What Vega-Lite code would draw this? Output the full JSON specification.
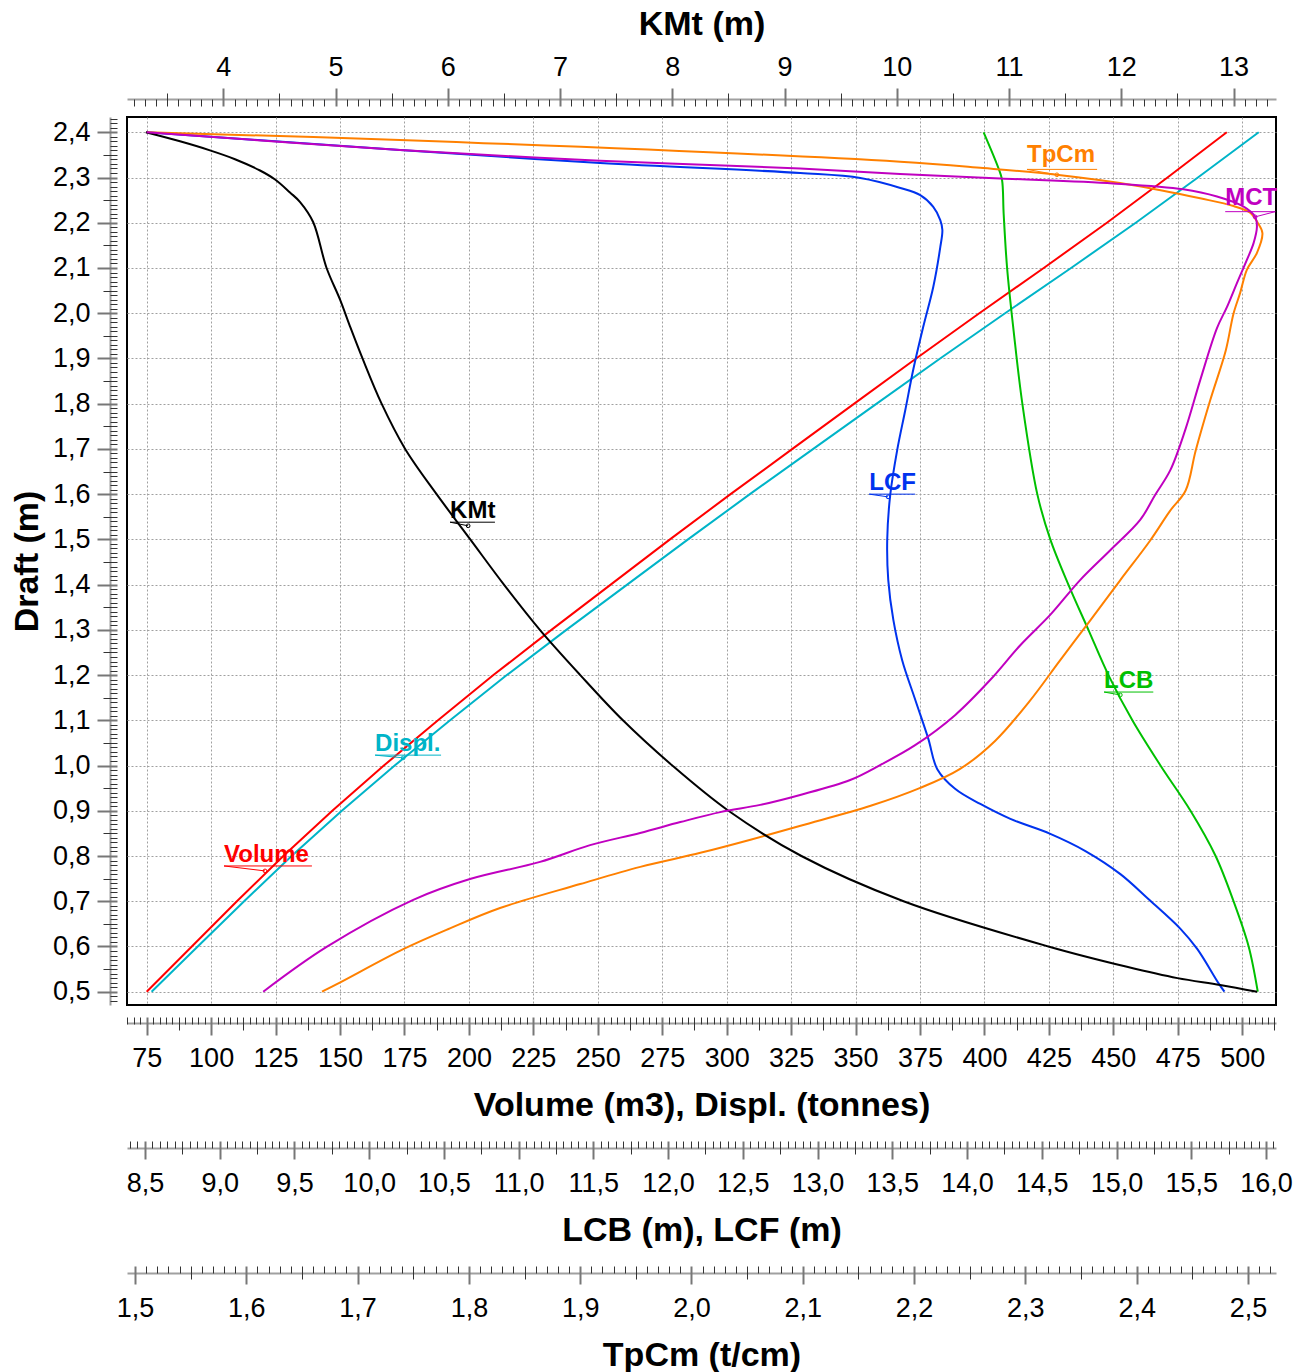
{
  "$schema": "https://vega.github.io/schema/vega-lite/v6.json",
  "width": 1149,
  "height": 888,
  "autosize": {"type": "none"},
  "padding": {"left": 127, "top": 117, "right": 17, "bottom": 367},
  "background": "white",
  "datasets": {
    "curves": [
      {"s": "Volume", "draft": 0.5, "val": 75},
      {"s": "Volume", "draft": 0.6, "val": 92.5},
      {"s": "Volume", "draft": 0.7, "val": 110},
      {"s": "Volume", "draft": 0.8, "val": 128},
      {"s": "Volume", "draft": 0.9, "val": 147},
      {"s": "Volume", "draft": 1.0, "val": 167},
      {"s": "Volume", "draft": 1.1, "val": 188},
      {"s": "Volume", "draft": 1.2, "val": 209.5},
      {"s": "Volume", "draft": 1.3, "val": 232},
      {"s": "Volume", "draft": 1.4, "val": 255},
      {"s": "Volume", "draft": 1.5, "val": 278},
      {"s": "Volume", "draft": 1.6, "val": 301.5},
      {"s": "Volume", "draft": 1.7, "val": 325.5},
      {"s": "Volume", "draft": 1.8, "val": 349.5},
      {"s": "Volume", "draft": 1.9, "val": 373.5},
      {"s": "Volume", "draft": 2.0, "val": 398},
      {"s": "Volume", "draft": 2.1, "val": 423},
      {"s": "Volume", "draft": 2.2, "val": 447.5},
      {"s": "Volume", "draft": 2.3, "val": 471},
      {"s": "Volume", "draft": 2.4, "val": 494},
      {"s": "Displ.", "draft": 0.5, "val": 76.9},
      {"s": "Displ.", "draft": 0.6, "val": 94.8},
      {"s": "Displ.", "draft": 0.7, "val": 112.8},
      {"s": "Displ.", "draft": 0.8, "val": 131.2},
      {"s": "Displ.", "draft": 0.9, "val": 150.7},
      {"s": "Displ.", "draft": 1.0, "val": 171.2},
      {"s": "Displ.", "draft": 1.1, "val": 192.7},
      {"s": "Displ.", "draft": 1.2, "val": 214.7},
      {"s": "Displ.", "draft": 1.3, "val": 237.8},
      {"s": "Displ.", "draft": 1.4, "val": 261.4},
      {"s": "Displ.", "draft": 1.5, "val": 285.0},
      {"s": "Displ.", "draft": 1.6, "val": 309.0},
      {"s": "Displ.", "draft": 1.7, "val": 333.6},
      {"s": "Displ.", "draft": 1.8, "val": 358.2},
      {"s": "Displ.", "draft": 1.9, "val": 382.8},
      {"s": "Displ.", "draft": 2.0, "val": 408.0},
      {"s": "Displ.", "draft": 2.1, "val": 433.6},
      {"s": "Displ.", "draft": 2.2, "val": 458.7},
      {"s": "Displ.", "draft": 2.3, "val": 482.8},
      {"s": "Displ.", "draft": 2.4, "val": 506.4},
      {"s": "KMt", "draft": 2.4, "val": 3.31},
      {"s": "KMt", "draft": 2.38, "val": 3.614},
      {"s": "KMt", "draft": 2.36, "val": 3.881},
      {"s": "KMt", "draft": 2.3405, "val": 4.104},
      {"s": "KMt", "draft": 2.3155, "val": 4.327},
      {"s": "KMt", "draft": 2.2956, "val": 4.461},
      {"s": "KMt", "draft": 2.2669, "val": 4.594},
      {"s": "KMt", "draft": 2.2458, "val": 4.684},
      {"s": "KMt", "draft": 2.2017, "val": 4.8},
      {"s": "KMt", "draft": 2.1, "val": 4.92},
      {"s": "KMt", "draft": 2.03, "val": 5.04},
      {"s": "KMt", "draft": 1.97, "val": 5.13},
      {"s": "KMt", "draft": 1.9, "val": 5.24},
      {"s": "KMt", "draft": 1.8, "val": 5.41},
      {"s": "KMt", "draft": 1.7, "val": 5.62},
      {"s": "KMt", "draft": 1.6, "val": 5.9},
      {"s": "KMt", "draft": 1.5, "val": 6.2},
      {"s": "KMt", "draft": 1.4, "val": 6.5},
      {"s": "KMt", "draft": 1.3, "val": 6.82},
      {"s": "KMt", "draft": 1.2, "val": 7.18},
      {"s": "KMt", "draft": 1.1, "val": 7.56},
      {"s": "KMt", "draft": 1.0, "val": 8.0},
      {"s": "KMt", "draft": 0.9, "val": 8.5},
      {"s": "KMt", "draft": 0.8, "val": 9.15},
      {"s": "KMt", "draft": 0.7, "val": 10.06},
      {"s": "KMt", "draft": 0.6, "val": 11.35},
      {"s": "KMt", "draft": 0.555, "val": 12.05},
      {"s": "KMt", "draft": 0.53, "val": 12.5},
      {"s": "KMt", "draft": 0.515, "val": 12.88},
      {"s": "KMt", "draft": 0.5, "val": 13.21},
      {"s": "LCB", "draft": 2.4, "val": 14.111},
      {"s": "LCB", "draft": 2.32, "val": 14.211},
      {"s": "LCB", "draft": 2.295, "val": 14.234},
      {"s": "LCB", "draft": 2.22, "val": 14.245},
      {"s": "LCB", "draft": 2.1, "val": 14.268},
      {"s": "LCB", "draft": 1.96, "val": 14.312},
      {"s": "LCB", "draft": 1.8, "val": 14.37},
      {"s": "LCB", "draft": 1.6, "val": 14.47},
      {"s": "LCB", "draft": 1.5, "val": 14.557},
      {"s": "LCB", "draft": 1.4, "val": 14.678},
      {"s": "LCB", "draft": 1.3, "val": 14.812},
      {"s": "LCB", "draft": 1.2, "val": 14.946},
      {"s": "LCB", "draft": 1.1, "val": 15.106},
      {"s": "LCB", "draft": 1.0, "val": 15.294},
      {"s": "LCB", "draft": 0.9, "val": 15.495},
      {"s": "LCB", "draft": 0.8, "val": 15.663},
      {"s": "LCB", "draft": 0.7, "val": 15.783},
      {"s": "LCB", "draft": 0.6, "val": 15.884},
      {"s": "LCB", "draft": 0.5, "val": 15.945},
      {"s": "LCF", "draft": 2.4, "val": 8.511},
      {"s": "LCF", "draft": 2.361, "val": 10.207},
      {"s": "LCF", "draft": 2.332, "val": 11.545},
      {"s": "LCF", "draft": 2.31, "val": 12.884},
      {"s": "LCF", "draft": 2.299, "val": 13.286},
      {"s": "LCF", "draft": 2.277, "val": 13.554},
      {"s": "LCF", "draft": 2.261, "val": 13.687},
      {"s": "LCF", "draft": 2.235, "val": 13.774},
      {"s": "LCF", "draft": 2.206, "val": 13.821},
      {"s": "LCF", "draft": 2.184, "val": 13.835},
      {"s": "LCF", "draft": 2.146, "val": 13.821},
      {"s": "LCF", "draft": 2.058, "val": 13.774},
      {"s": "LCF", "draft": 1.97, "val": 13.707},
      {"s": "LCF", "draft": 1.875, "val": 13.64},
      {"s": "LCF", "draft": 1.786, "val": 13.587},
      {"s": "LCF", "draft": 1.698, "val": 13.533},
      {"s": "LCF", "draft": 1.598, "val": 13.486},
      {"s": "LCF", "draft": 1.499, "val": 13.466},
      {"s": "LCF", "draft": 1.41, "val": 13.473},
      {"s": "LCF", "draft": 1.322, "val": 13.507},
      {"s": "LCF", "draft": 1.233, "val": 13.566},
      {"s": "LCF", "draft": 1.145, "val": 13.654},
      {"s": "LCF", "draft": 1.059, "val": 13.741},
      {"s": "LCF", "draft": 0.992, "val": 13.801},
      {"s": "LCF", "draft": 0.948, "val": 13.922},
      {"s": "LCF", "draft": 0.915, "val": 14.089},
      {"s": "LCF", "draft": 0.882, "val": 14.29},
      {"s": "LCF", "draft": 0.849, "val": 14.557},
      {"s": "LCF", "draft": 0.811, "val": 14.792},
      {"s": "LCF", "draft": 0.76, "val": 15.026},
      {"s": "LCF", "draft": 0.705, "val": 15.213},
      {"s": "LCF", "draft": 0.639, "val": 15.428},
      {"s": "LCF", "draft": 0.594, "val": 15.541},
      {"s": "LCF", "draft": 0.519, "val": 15.682},
      {"s": "LCF", "draft": 0.5, "val": 15.722},
      {"s": "TpCm", "draft": 2.4, "val": 1.5105},
      {"s": "TpCm", "draft": 2.383, "val": 1.738},
      {"s": "TpCm", "draft": 2.335, "val": 2.1875},
      {"s": "TpCm", "draft": 2.321, "val": 2.262},
      {"s": "TpCm", "draft": 2.306, "val": 2.328},
      {"s": "TpCm", "draft": 2.283, "val": 2.397},
      {"s": "TpCm", "draft": 2.254, "val": 2.457},
      {"s": "TpCm", "draft": 2.237, "val": 2.487},
      {"s": "TpCm", "draft": 2.222, "val": 2.502},
      {"s": "TpCm", "draft": 2.199, "val": 2.509},
      {"s": "TpCm", "draft": 2.177, "val": 2.513},
      {"s": "TpCm", "draft": 2.133, "val": 2.508},
      {"s": "TpCm", "draft": 2.096, "val": 2.499},
      {"s": "TpCm", "draft": 2.045, "val": 2.493},
      {"s": "TpCm", "draft": 1.999, "val": 2.487},
      {"s": "TpCm", "draft": 1.917, "val": 2.48},
      {"s": "TpCm", "draft": 1.807, "val": 2.466},
      {"s": "TpCm", "draft": 1.696, "val": 2.453},
      {"s": "TpCm", "draft": 1.608, "val": 2.444},
      {"s": "TpCm", "draft": 1.563, "val": 2.43},
      {"s": "TpCm", "draft": 1.497, "val": 2.412},
      {"s": "TpCm", "draft": 1.409, "val": 2.385},
      {"s": "TpCm", "draft": 1.32, "val": 2.358},
      {"s": "TpCm", "draft": 1.232, "val": 2.331},
      {"s": "TpCm", "draft": 1.143, "val": 2.304},
      {"s": "TpCm", "draft": 1.055, "val": 2.273},
      {"s": "TpCm", "draft": 0.992, "val": 2.241},
      {"s": "TpCm", "draft": 0.95, "val": 2.205},
      {"s": "TpCm", "draft": 0.911, "val": 2.161},
      {"s": "TpCm", "draft": 0.867, "val": 2.098},
      {"s": "TpCm", "draft": 0.836, "val": 2.053},
      {"s": "TpCm", "draft": 0.807, "val": 2.008},
      {"s": "TpCm", "draft": 0.776, "val": 1.954},
      {"s": "TpCm", "draft": 0.738, "val": 1.9},
      {"s": "TpCm", "draft": 0.685, "val": 1.828},
      {"s": "TpCm", "draft": 0.64, "val": 1.783},
      {"s": "TpCm", "draft": 0.594, "val": 1.741},
      {"s": "TpCm", "draft": 0.52, "val": 1.684},
      {"s": "TpCm", "draft": 0.5, "val": 1.668},
      {"s": "MCT", "draft": 2.4, "val": 75.0},
      {"s": "MCT", "draft": 2.361, "val": 173.3},
      {"s": "MCT", "draft": 2.337, "val": 250.9},
      {"s": "MCT", "draft": 2.32, "val": 328.5},
      {"s": "MCT", "draft": 2.308, "val": 367.3},
      {"s": "MCT", "draft": 2.298, "val": 406.1},
      {"s": "MCT", "draft": 2.287, "val": 449.9},
      {"s": "MCT", "draft": 2.274, "val": 477.1},
      {"s": "MCT", "draft": 2.258, "val": 490.2},
      {"s": "MCT", "draft": 2.236, "val": 500.4},
      {"s": "MCT", "draft": 2.213, "val": 505.0},
      {"s": "MCT", "draft": 2.191, "val": 505.7},
      {"s": "MCT", "draft": 2.155, "val": 504.4},
      {"s": "MCT", "draft": 2.118, "val": 501.8},
      {"s": "MCT", "draft": 2.066, "val": 497.9},
      {"s": "MCT", "draft": 2.014, "val": 494.1},
      {"s": "MCT", "draft": 1.967, "val": 490.2},
      {"s": "MCT", "draft": 1.852, "val": 483.7},
      {"s": "MCT", "draft": 1.742, "val": 477.9},
      {"s": "MCT", "draft": 1.653, "val": 472.1},
      {"s": "MCT", "draft": 1.598, "val": 466.2},
      {"s": "MCT", "draft": 1.543, "val": 460.4},
      {"s": "MCT", "draft": 1.476, "val": 448.8},
      {"s": "MCT", "draft": 1.41, "val": 437.1},
      {"s": "MCT", "draft": 1.333, "val": 425.5},
      {"s": "MCT", "draft": 1.266, "val": 413.9},
      {"s": "MCT", "draft": 1.189, "val": 402.2},
      {"s": "MCT", "draft": 1.112, "val": 388.7},
      {"s": "MCT", "draft": 1.045, "val": 373.1},
      {"s": "MCT", "draft": 1.001, "val": 359.5},
      {"s": "MCT", "draft": 0.968, "val": 347.9},
      {"s": "MCT", "draft": 0.935, "val": 328.5},
      {"s": "MCT", "draft": 0.913, "val": 313.0},
      {"s": "MCT", "draft": 0.897, "val": 297.5},
      {"s": "MCT", "draft": 0.875, "val": 282.0},
      {"s": "MCT", "draft": 0.851, "val": 266.4},
      {"s": "MCT", "draft": 0.824, "val": 247.0},
      {"s": "MCT", "draft": 0.787, "val": 227.6},
      {"s": "MCT", "draft": 0.749, "val": 200.4},
      {"s": "MCT", "draft": 0.703, "val": 178.4},
      {"s": "MCT", "draft": 0.599, "val": 144.8},
      {"s": "MCT", "draft": 0.5, "val": 120.2}
    ],
    "notes": [
      {"s": "TpCm", "x": 416.5, "y": 2.334, "x2": 443.7, "uy": 2.318, "lx": 416.5, "px": 428.1, "py": 2.306},
      {"s": "MCT", "x": 493.4, "y": 2.239, "x2": 512.8, "uy": 2.2245, "lx": 512.8, "px": 505.0, "py": 2.213},
      {"s": "LCF", "x": 355.3, "y": 1.609, "x2": 373.1, "uy": 1.6, "lx": 355.3, "px": 362.6, "py": 1.594},
      {"s": "KMt", "x": 192.7, "y": 1.547, "x2": 210.1, "uy": 1.538, "lx": 192.7, "px": 199.7, "py": 1.53},
      {"s": "LCB", "x": 446.4, "y": 1.171, "x2": 465.5, "uy": 1.1625, "lx": 446.4, "px": 452.7, "py": 1.156},
      {"s": "Displ.", "x": 163.6, "y": 1.032, "x2": 189.2, "uy": 1.023, "lx": 163.6, "px": 174.5, "py": 1.017},
      {"s": "Volume", "x": 105.0, "y": 0.787, "x2": 139.1, "uy": 0.778, "lx": 105.0, "px": 120.9, "py": 0.767}
    ]
  },
  "resolve": {
    "scale": {"x": "independent"},
    "axis": {"x": "independent", "y": "independent"}
  },
  "layer": [
    {
      "data": {"name": "curves"},
      "transform": [{"filter": {"field": "s", "oneOf": ["Volume", "Displ."]}}],
      "mark": {"type": "line", "strokeWidth": 2},
      "encoding": {
        "x": {
          "field": "val", "type": "quantitative",
          "scale": {"domain": [67.36, 513.1], "nice": false, "zero": false},
          "axis": {
            "orient": "bottom", "offset": 18, "values": [75, 100, 125, 150, 175, 200, 225, 250, 275, 300, 325, 350, 375, 400, 425, 450, 475, 500],
            "ticks": false, "tickSize": 0, "domain": true, "grid": true,
            "labelPadding": 43, "labelBaseline": "alphabetic", "format": "d",
            "title": "Volume (m3), Displ. (tonnes)", "titleBaseline": "alphabetic", "titleY": 92
          }
        },
        "y": {
          "field": "draft", "type": "quantitative",
          "scale": {"domain": [0.4706, 2.4338], "nice": false, "zero": false},
          "axis": {
            "orient": "left", "offset": 17, "values": [0.5, 0.6, 0.7, 0.8, 0.9, 1.0, 1.1, 1.2, 1.3, 1.4, 1.5, 1.6, 1.7, 1.8, 1.9, 2.0, 2.1, 2.2, 2.3, 2.4],
            "ticks": false, "tickSize": 0, "domain": true, "grid": true,
            "labelPadding": 20, "labelBaseline": "middle",
            "labelExpr": "replace(format(datum.value, '.1f'), '.', ',')",
            "title": "Draft (m)", "titleBaseline": "alphabetic", "titleAngle": 270, "titleX": -73
          }
        },
        "color": {
          "field": "s", "type": "nominal", "legend": null,
          "scale": {"domain": ["Volume", "Displ.", "KMt", "LCB", "LCF", "TpCm", "MCT"], "range": ["#ff0000", "#00b4c8", "#000000", "#00c000", "#0033ee", "#ff8000", "#c000c0"]}
        },
        "order": {"field": "draft", "type": "quantitative"}
      }
    },
    {
      "data": {"name": "curves"},
      "transform": [{"filter": {"field": "s", "equal": "Volume"}}],
      "mark": {"type": "point", "opacity": 0},
      "encoding": {
        "x": {
          "field": "val", "type": "quantitative",
          "scale": {"domain": [67.36, 513.1], "nice": false, "zero": false},
          "axis": {
            "orient": "bottom", "offset": 12, "domain": false, "grid": false, "labels": false, "title": null, "ticks": true,
            "values": [67.5,70,72.5,75,77.5,80,82.5,85,87.5,90,92.5,95,97.5,100,102.5,105,107.5,110,112.5,115,117.5,120,122.5,125,127.5,130,132.5,135,137.5,140,142.5,145,147.5,150,152.5,155,157.5,160,162.5,165,167.5,170,172.5,175,177.5,180,182.5,185,187.5,190,192.5,195,197.5,200,202.5,205,207.5,210,212.5,215,217.5,220,222.5,225,227.5,230,232.5,235,237.5,240,242.5,245,247.5,250,252.5,255,257.5,260,262.5,265,267.5,270,272.5,275,277.5,280,282.5,285,287.5,290,292.5,295,297.5,300,302.5,305,307.5,310,312.5,315,317.5,320,322.5,325,327.5,330,332.5,335,337.5,340,342.5,345,347.5,350,352.5,355,357.5,360,362.5,365,367.5,370,372.5,375,377.5,380,382.5,385,387.5,390,392.5,395,397.5,400,402.5,405,407.5,410,412.5,415,417.5,420,422.5,425,427.5,430,432.5,435,437.5,440,442.5,445,447.5,450,452.5,455,457.5,460,462.5,465,467.5,470,472.5,475,477.5,480,482.5,485,487.5,490,492.5,495,497.5,500,502.5,505,507.5,510,512.5],
            "tickSize": {"condition": [{"test": "datum.value % 25 === 0", "value": 18}, {"test": "datum.value % 12.5 === 0", "value": 13}], "value": 7},
            "tickWidth": {"condition": {"test": "datum.value % 25 === 0", "value": 2}, "value": 1},
            "tickColor": {"condition": {"test": "datum.value % 25 === 0", "value": "#777777"}, "value": "#333333"}
          }
        },
        "y": {
          "field": "draft", "type": "quantitative",
          "scale": {"domain": [0.4706, 2.4338], "nice": false, "zero": false},
          "axis": {
            "orient": "left", "offset": 10, "domain": false, "grid": false, "labels": false, "title": null, "ticks": true,
            "tickCount": 196,
            "tickSize": {"condition": [{"test": "round(datum.value * 100) % 10 === 0", "value": 20}, {"test": "round(datum.value * 100) % 5 === 0", "value": 14}], "value": 7},
            "tickWidth": {"condition": {"test": "round(datum.value * 100) % 10 === 0", "value": 2}, "value": 1},
            "tickColor": {"condition": {"test": "round(datum.value * 100) % 10 === 0", "value": "#777777"}, "value": "#333333"}
          }
        }
      }
    },
    {
      "data": {"name": "curves"},
      "transform": [{"filter": {"field": "s", "oneOf": ["LCB", "LCF"]}}],
      "mark": {"type": "line", "strokeWidth": 2, "interpolate": "catmull-rom"},
      "encoding": {
        "x": {
          "field": "val", "type": "quantitative",
          "scale": {"domain": [8.38, 16.067], "nice": false, "zero": false},
          "axis": {
            "orient": "bottom", "offset": 143, "values": [8.5, 9, 9.5, 10, 10.5, 11, 11.5, 12, 12.5, 13, 13.5, 14, 14.5, 15, 15.5, 16],
            "ticks": false, "tickSize": 0, "domain": true, "grid": false,
            "labelPadding": 43, "labelBaseline": "alphabetic",
            "labelExpr": "replace(format(datum.value, '.1f'), '.', ',')",
            "title": "LCB (m), LCF (m)", "titleBaseline": "alphabetic", "titleY": 92
          }
        },
        "y": {"field": "draft", "type": "quantitative", "scale": {"domain": [0.4706, 2.4338], "nice": false, "zero": false}, "axis": null},
        "color": {
          "field": "s", "type": "nominal", "legend": null,
          "scale": {"domain": ["Volume", "Displ.", "KMt", "LCB", "LCF", "TpCm", "MCT"], "range": ["#ff0000", "#00b4c8", "#000000", "#00c000", "#0033ee", "#ff8000", "#c000c0"]}
        },
        "order": {"field": "draft", "type": "quantitative"}
      }
    },
    {
      "data": {"name": "curves"},
      "transform": [{"filter": {"field": "s", "equal": "LCB"}}],
      "mark": {"type": "point", "opacity": 0},
      "encoding": {
        "x": {
          "field": "val", "type": "quantitative",
          "scale": {"domain": [8.38, 16.067], "nice": false, "zero": false},
          "axis": {
            "orient": "bottom", "offset": 136, "domain": false, "grid": false, "labels": false, "title": null, "ticks": true,
            "tickCount": 154,
            "tickSize": {"condition": [{"test": "round(datum.value * 100) % 50 === 0", "value": 18}, {"test": "round(datum.value * 100) % 25 === 0", "value": 13}], "value": 7},
            "tickWidth": {"condition": {"test": "round(datum.value * 100) % 50 === 0", "value": 2}, "value": 1},
            "tickColor": {"condition": {"test": "round(datum.value * 100) % 50 === 0", "value": "#777777"}, "value": "#333333"}
          }
        },
        "y": {"field": "draft", "type": "quantitative", "scale": {"domain": [0.4706, 2.4338], "nice": false, "zero": false}, "axis": null}
      }
    },
    {
      "data": {"name": "curves"},
      "transform": [{"filter": {"field": "s", "equal": "TpCm"}}],
      "mark": {"type": "line", "strokeWidth": 2, "interpolate": "catmull-rom"},
      "encoding": {
        "x": {
          "field": "val", "type": "quantitative",
          "scale": {"domain": [1.4928, 2.5252], "nice": false, "zero": false},
          "axis": {
            "orient": "bottom", "offset": 268, "values": [1.5, 1.6, 1.7, 1.8, 1.9, 2.0, 2.1, 2.2, 2.3, 2.4, 2.5],
            "ticks": false, "tickSize": 0, "domain": true, "grid": false,
            "labelPadding": 43, "labelBaseline": "alphabetic",
            "labelExpr": "replace(format(datum.value, '.1f'), '.', ',')",
            "title": "TpCm (t/cm)", "titleBaseline": "alphabetic", "titleY": 92
          }
        },
        "y": {"field": "draft", "type": "quantitative", "scale": {"domain": [0.4706, 2.4338], "nice": false, "zero": false}, "axis": null},
        "color": {
          "field": "s", "type": "nominal", "legend": null,
          "scale": {"domain": ["Volume", "Displ.", "KMt", "LCB", "LCF", "TpCm", "MCT"], "range": ["#ff0000", "#00b4c8", "#000000", "#00c000", "#0033ee", "#ff8000", "#c000c0"]}
        },
        "order": {"field": "draft", "type": "quantitative"}
      }
    },
    {
      "data": {"name": "curves"},
      "transform": [{"filter": {"field": "s", "equal": "TpCm"}}],
      "mark": {"type": "point", "opacity": 0},
      "encoding": {
        "x": {
          "field": "val", "type": "quantitative",
          "scale": {"domain": [1.4928, 2.5252], "nice": false, "zero": false},
          "axis": {
            "orient": "bottom", "offset": 261, "domain": false, "grid": false, "labels": false, "title": null, "ticks": true,
            "tickCount": 103,
            "tickSize": {"condition": [{"test": "round(datum.value * 100) % 10 === 0", "value": 18}, {"test": "round(datum.value * 100) % 5 === 0", "value": 13}], "value": 7},
            "tickWidth": {"condition": {"test": "round(datum.value * 100) % 10 === 0", "value": 2}, "value": 1},
            "tickColor": {"condition": {"test": "round(datum.value * 100) % 10 === 0", "value": "#777777"}, "value": "#333333"}
          }
        },
        "y": {"field": "draft", "type": "quantitative", "scale": {"domain": [0.4706, 2.4338], "nice": false, "zero": false}, "axis": null}
      }
    },
    {
      "data": {"name": "curves"},
      "transform": [{"filter": {"field": "s", "equal": "KMt"}}],
      "mark": {"type": "line", "strokeWidth": 2, "interpolate": "catmull-rom"},
      "encoding": {
        "x": {
          "field": "val", "type": "quantitative",
          "scale": {"domain": [3.142, 13.378], "nice": false, "zero": false},
          "axis": {
            "orient": "top", "offset": 18, "values": [4, 5, 6, 7, 8, 9, 10, 11, 12, 13],
            "ticks": false, "tickSize": 0, "domain": true, "grid": false,
            "labelPadding": 24, "labelBaseline": "alphabetic", "format": "d",
            "title": "KMt (m)", "titleBaseline": "alphabetic", "titleY": -65
          }
        },
        "y": {"field": "draft", "type": "quantitative", "scale": {"domain": [0.4706, 2.4338], "nice": false, "zero": false}, "axis": null},
        "color": {
          "field": "s", "type": "nominal", "legend": null,
          "scale": {"domain": ["Volume", "Displ.", "KMt", "LCB", "LCF", "TpCm", "MCT"], "range": ["#ff0000", "#00b4c8", "#000000", "#00c000", "#0033ee", "#ff8000", "#c000c0"]}
        },
        "order": {"field": "draft", "type": "quantitative"}
      }
    },
    {
      "data": {"name": "curves"},
      "transform": [{"filter": {"field": "s", "equal": "KMt"}}],
      "mark": {"type": "point", "opacity": 0},
      "encoding": {
        "x": {
          "field": "val", "type": "quantitative",
          "scale": {"domain": [3.142, 13.378], "nice": false, "zero": false},
          "axis": {
            "orient": "top", "offset": 11, "domain": false, "grid": false, "labels": false, "title": null, "ticks": true,
            "tickCount": 102,
            "tickSize": {"condition": [{"test": "round(datum.value * 10) % 10 === 0", "value": 18}, {"test": "round(datum.value * 10) % 5 === 0", "value": 13}], "value": 7},
            "tickWidth": {"condition": {"test": "round(datum.value * 10) % 10 === 0", "value": 2}, "value": 1},
            "tickColor": {"condition": {"test": "round(datum.value * 10) % 10 === 0", "value": "#777777"}, "value": "#333333"}
          }
        },
        "y": {"field": "draft", "type": "quantitative", "scale": {"domain": [0.4706, 2.4338], "nice": false, "zero": false}, "axis": null}
      }
    },
    {
      "data": {"name": "curves"},
      "transform": [{"filter": {"field": "s", "equal": "MCT"}}],
      "mark": {"type": "line", "strokeWidth": 2, "interpolate": "catmull-rom"},
      "encoding": {
        "x": {"field": "val", "type": "quantitative", "scale": {"domain": [67.36, 513.1], "nice": false, "zero": false}, "axis": null},
        "y": {"field": "draft", "type": "quantitative", "scale": {"domain": [0.4706, 2.4338], "nice": false, "zero": false}, "axis": null},
        "color": {
          "field": "s", "type": "nominal", "legend": null,
          "scale": {"domain": ["Volume", "Displ.", "KMt", "LCB", "LCF", "TpCm", "MCT"], "range": ["#ff0000", "#00b4c8", "#000000", "#00c000", "#0033ee", "#ff8000", "#c000c0"]}
        },
        "order": {"field": "draft", "type": "quantitative"}
      }
    },
    {
      "data": {"name": "notes"},
      "mark": {"type": "rule", "strokeWidth": 1},
      "encoding": {
        "x": {"field": "x", "type": "quantitative", "scale": {"domain": [67.36, 513.1], "nice": false, "zero": false}, "axis": null},
        "x2": {"field": "x2"},
        "y": {"field": "uy", "type": "quantitative", "scale": {"domain": [0.4706, 2.4338], "nice": false, "zero": false}, "axis": null},
        "color": {
          "field": "s", "type": "nominal", "legend": null,
          "scale": {"domain": ["Volume", "Displ.", "KMt", "LCB", "LCF", "TpCm", "MCT"], "range": ["#ff0000", "#00b4c8", "#000000", "#00c000", "#0033ee", "#ff8000", "#c000c0"]}
        }
      }
    },
    {
      "data": {"name": "notes"},
      "mark": {"type": "rule", "strokeWidth": 1},
      "encoding": {
        "x": {"field": "lx", "type": "quantitative", "scale": {"domain": [67.36, 513.1], "nice": false, "zero": false}, "axis": null},
        "x2": {"field": "px"},
        "y": {"field": "uy", "type": "quantitative", "scale": {"domain": [0.4706, 2.4338], "nice": false, "zero": false}, "axis": null},
        "y2": {"field": "py"},
        "color": {
          "field": "s", "type": "nominal", "legend": null,
          "scale": {"domain": ["Volume", "Displ.", "KMt", "LCB", "LCF", "TpCm", "MCT"], "range": ["#ff0000", "#00b4c8", "#000000", "#00c000", "#0033ee", "#ff8000", "#c000c0"]}
        }
      }
    },
    {
      "data": {"name": "notes"},
      "mark": {"type": "point", "size": 14, "filled": false, "strokeWidth": 1, "opacity": 1},
      "encoding": {
        "x": {"field": "px", "type": "quantitative", "scale": {"domain": [67.36, 513.1], "nice": false, "zero": false}, "axis": null},
        "y": {"field": "py", "type": "quantitative", "scale": {"domain": [0.4706, 2.4338], "nice": false, "zero": false}, "axis": null},
        "color": {
          "field": "s", "type": "nominal", "legend": null,
          "scale": {"domain": ["Volume", "Displ.", "KMt", "LCB", "LCF", "TpCm", "MCT"], "range": ["#ff0000", "#00b4c8", "#000000", "#00c000", "#0033ee", "#ff8000", "#c000c0"]}
        }
      }
    },
    {
      "data": {"name": "notes"},
      "mark": {"type": "text", "align": "left", "baseline": "alphabetic", "fontSize": 24, "fontWeight": "bold", "font": "Liberation Sans"},
      "encoding": {
        "x": {"field": "x", "type": "quantitative", "scale": {"domain": [67.36, 513.1], "nice": false, "zero": false}, "axis": null},
        "y": {"field": "y", "type": "quantitative", "scale": {"domain": [0.4706, 2.4338], "nice": false, "zero": false}, "axis": null},
        "text": {"field": "s", "type": "nominal"},
        "color": {
          "field": "s", "type": "nominal", "legend": null,
          "scale": {"domain": ["Volume", "Displ.", "KMt", "LCB", "LCF", "TpCm", "MCT"], "range": ["#ff0000", "#00b4c8", "#000000", "#00c000", "#0033ee", "#ff8000", "#c000c0"]}
        }
      }
    }
  ],
  "config": {
    "view": {"stroke": "#000000", "strokeWidth": 2},
    "font": "Liberation Sans",
    "axis": {
      "labelFont": "Liberation Sans", "labelFontSize": 27, "labelColor": "#000000",
      "titleFont": "Liberation Sans", "titleFontSize": 34, "titleFontWeight": "bold", "titleColor": "#000000",
      "domainColor": "#a0a0a0", "domainWidth": 2,
      "gridColor": "#a0a0a0", "gridDash": [2, 2], "gridWidth": 1, "gridOpacity": 1,
      "labelFlush": false, "labelOverlap": false
    }
  }
}
